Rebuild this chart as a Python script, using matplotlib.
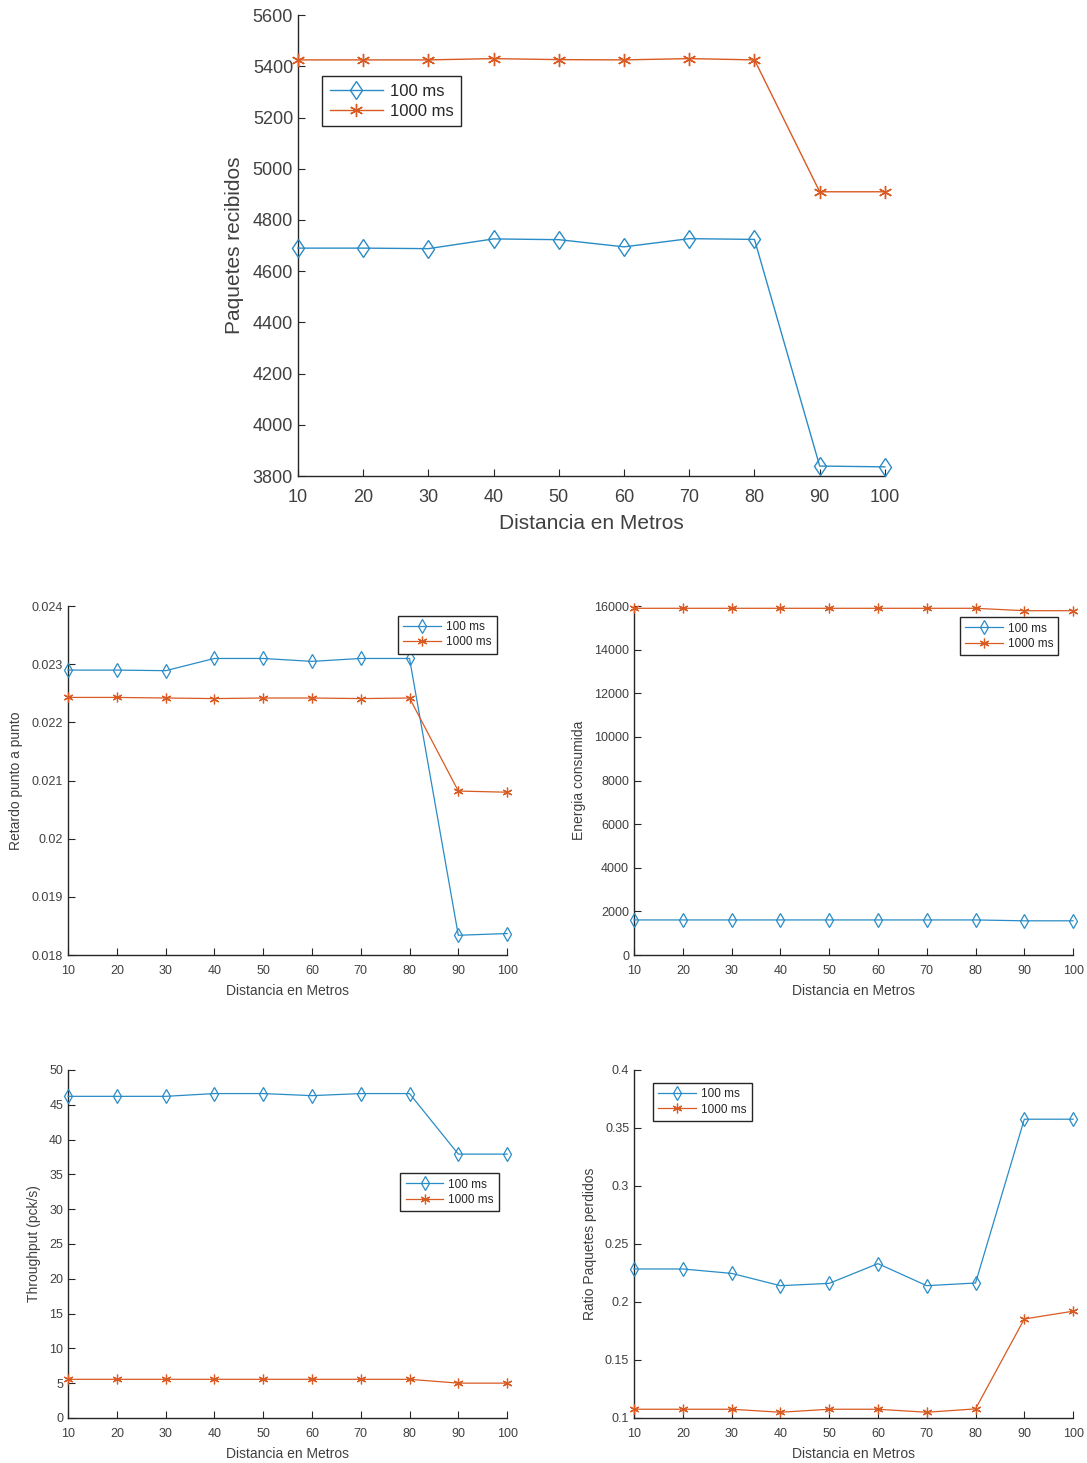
import numpy as np
import matplotlib

matplotlib.use("Agg")
import matplotlib.pyplot as plt  # noqa: E402

plt.rcParams["font.family"] = ["Liberation Sans", "DejaVu Sans"]

distancia = [10, 20, 30, 40, 50, 60, 70, 80, 90, 100]
series_names = ["100 ms", "1000 ms"]

paquetes_100 = [4690, 4690, 4688, 4726, 4723, 4695, 4727, 4724, 3839, 3836]
paquetes_1000 = [5425, 5425, 5425, 5430, 5426, 5425, 5430, 5425, 4910, 4910]

retardo_100 = [0.02290, 0.02290, 0.02289, 0.02310, 0.02310, 0.02305, 0.02310, 0.02310, 0.01834, 0.01837]
retardo_1000 = [0.02243, 0.02243, 0.02242, 0.02241, 0.02242, 0.02242, 0.02241, 0.02242, 0.02082, 0.02080]

energia_100 = [1610, 1610, 1610, 1610, 1610, 1610, 1610, 1610, 1570, 1570]
energia_1000 = [15900, 15900, 15900, 15900, 15900, 15900, 15900, 15900, 15790, 15790]

throughput_100 = [46.2, 46.2, 46.2, 46.6, 46.6, 46.3, 46.6, 46.6, 37.9, 37.9]
throughput_1000 = [5.55, 5.55, 5.55, 5.55, 5.55, 5.55, 5.55, 5.55, 5.0, 5.0]

ratio_100 = [0.2284, 0.2284, 0.2246, 0.2140, 0.2160, 0.2330, 0.2140, 0.2163, 0.3575, 0.3575]
ratio_1000 = [0.1075, 0.1075, 0.1075, 0.1049, 0.1075, 0.1075, 0.1049, 0.1078, 0.1853, 0.1920]

BLUE = "#2a8cc6"
ORANGE = "#d95a22"
TEXT = "#404040"
ASTERISK = (6, 2, 0)


def draw_panel(ax, y100, y1000, ylim, yticks, ylabel, legend_loc, tick_fs, label_fs,
               legend_fs, ms, lw, xpad, xlabelpad, yticklabels=None):
    ax.plot(distancia, y100, color=BLUE, marker="d", markerfacecolor="none",
            markersize=ms, linewidth=lw, markeredgewidth=lw, label=series_names[0],
            clip_on=False, zorder=3)
    ax.plot(distancia, y1000, color=ORANGE, marker=ASTERISK, linestyle="-",
            markersize=ms, linewidth=lw, markeredgewidth=lw,
            label=series_names[1], clip_on=False, zorder=3)
    ax.set_xlim(10, 100)
    ax.set_ylim(*ylim)
    ax.set_xticks(distancia)
    ax.set_yticks(yticks)
    if yticklabels is not None:
        ax.set_yticklabels(yticklabels)
    ax.spines["top"].set_visible(False)
    ax.spines["right"].set_visible(False)
    for s in ("left", "bottom"):
        ax.spines[s].set_color("#262626")
        ax.spines[s].set_linewidth(1.0)
    ax.tick_params(direction="in", colors="#262626", labelcolor=TEXT,
                   labelsize=tick_fs, length=5)
    ax.tick_params(axis="x", pad=xpad)
    ax.set_xlabel("Distancia en Metros", fontsize=label_fs, color=TEXT, labelpad=xlabelpad)
    ax.set_ylabel(ylabel, fontsize=label_fs, color=TEXT, labelpad=6)
    leg = ax.legend(fontsize=legend_fs, fancybox=False, edgecolor="#262626",
                    framealpha=1, handlelength=3.2, borderpad=0.45, labelspacing=0.3,
                    handletextpad=0.4, **legend_loc)
    leg.get_frame().set_linewidth(1.0)
    for t in leg.get_texts():
        t.set_color("#262626")
    return ax


fig = plt.figure(figsize=(10.87, 14.63), dpi=100)

ax_top = fig.add_axes([0.2741, 0.6746, 0.540, 0.3151])
draw_panel(ax_top, paquetes_100, paquetes_1000, (3800, 5600),
           np.arange(3800, 5601, 200), "Paquetes recibidos",
           dict(loc="upper left", bbox_to_anchor=(0.027, 0.885)),
           tick_fs=13, label_fs=15, legend_fs=12, ms=9.5, lw=1.0, xpad=9, xlabelpad=6)

ax_ret = fig.add_axes([0.0626, 0.3472, 0.4039, 0.2385])
draw_panel(ax_ret, retardo_100, retardo_1000, (0.018, 0.024),
           [0.018, 0.019, 0.020, 0.021, 0.022, 0.023, 0.024], "Retardo punto a punto",
           dict(loc="upper right", bbox_to_anchor=(0.99, 0.99)),
           tick_fs=9, label_fs=10, legend_fs=8.5, ms=7, lw=0.9, xpad=7, xlabelpad=5,
           yticklabels=["0.018", "0.019", "0.02", "0.021", "0.022", "0.023", "0.024"])

ax_en = fig.add_axes([0.5833, 0.3472, 0.4039, 0.2385])
draw_panel(ax_en, energia_100, energia_1000, (0, 16000),
           np.arange(0, 16001, 2000), "Energia consumida",
           dict(loc="upper right", bbox_to_anchor=(0.98, 0.985)),
           tick_fs=9, label_fs=10, legend_fs=8.5, ms=7, lw=0.9, xpad=7, xlabelpad=5)

ax_th = fig.add_axes([0.0626, 0.0308, 0.4039, 0.2379])
draw_panel(ax_th, throughput_100, throughput_1000, (0, 50),
           np.arange(0, 51, 5), "Throughput (pck/s)",
           dict(loc="upper right", bbox_to_anchor=(0.995, 0.72)),
           tick_fs=9, label_fs=10, legend_fs=8.5, ms=7, lw=0.9, xpad=7, xlabelpad=5)

ax_ra = fig.add_axes([0.5833, 0.0308, 0.4039, 0.2379])
draw_panel(ax_ra, ratio_100, ratio_1000, (0.1, 0.4),
           [0.1, 0.15, 0.2, 0.25, 0.3, 0.35, 0.4], "Ratio Paquetes perdidos",
           dict(loc="upper left", bbox_to_anchor=(0.03, 0.98)),
           tick_fs=9, label_fs=10, legend_fs=8.5, ms=7, lw=0.9, xpad=7, xlabelpad=5,
           yticklabels=["0.1", "0.15", "0.2", "0.25", "0.3", "0.35", "0.4"])

fig.savefig("out.png", dpi=100, facecolor="white")
plt.close(fig)
